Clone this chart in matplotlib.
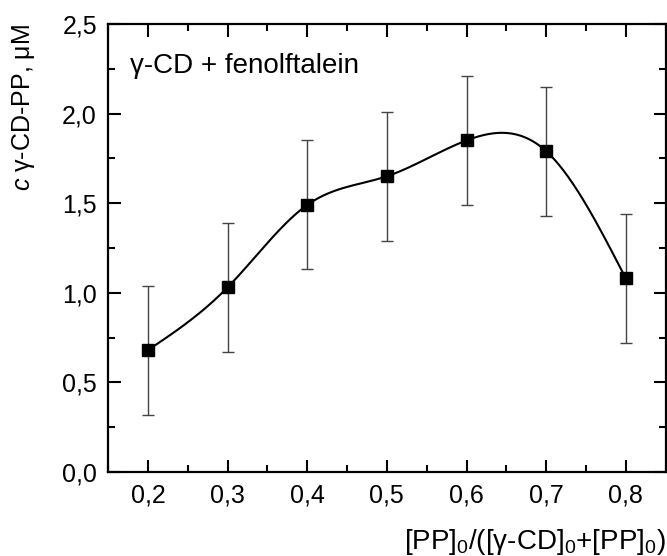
import numpy as np
import matplotlib
matplotlib.use("Agg")
import matplotlib.pyplot as plt
from matplotlib.ticker import MultipleLocator, FuncFormatter

plt.rcParams['font.family'] = ['Liberation Sans', 'DejaVu Sans']
plt.rcParams['mathtext.fontset'] = 'custom'
plt.rcParams['mathtext.rm'] = 'Liberation Sans'
plt.rcParams['mathtext.it'] = 'Liberation Sans:italic'

x = np.array([0.2, 0.3, 0.4, 0.5, 0.6, 0.7, 0.8])
c = np.array([0.68, 1.03, 1.49, 1.65, 1.85, 1.79, 1.08])
err = np.array([0.36, 0.36, 0.36, 0.36, 0.36, 0.36, 0.36])


def natural_spline(xs, ys, n=300):
    # natural cubic spline through the measured points
    k = len(xs)
    h = np.diff(xs)
    A = np.zeros((k, k))
    b = np.zeros(k)
    A[0, 0] = A[-1, -1] = 1
    for i in range(1, k - 1):
        A[i, i - 1] = h[i - 1]
        A[i, i] = 2 * (h[i - 1] + h[i])
        A[i, i + 1] = h[i]
        b[i] = 6 * ((ys[i + 1] - ys[i]) / h[i] - (ys[i] - ys[i - 1]) / h[i - 1])
    m = np.linalg.solve(A, b)
    xx = np.linspace(xs[0], xs[-1], n)
    idx = np.clip(np.searchsorted(xs, xx) - 1, 0, k - 2)
    x0, x1 = xs[idx], xs[idx + 1]
    hh = x1 - x0
    t0, t1 = x1 - xx, xx - x0
    yy = (m[idx] * t0**3 + m[idx + 1] * t1**3) / (6 * hh) \
        + (ys[idx] / hh - m[idx] * hh / 6) * t0 \
        + (ys[idx + 1] / hh - m[idx + 1] * hh / 6) * t1
    return xx, yy


fig = plt.figure(figsize=(6.67, 5.56), dpi=100)
ax = fig.add_axes([0.162, 0.151, 0.836, 0.806])

xs, ys = natural_spline(x, c)
ax.plot(xs, ys, color='black', linewidth=1.5)
ax.errorbar(x, c, yerr=err, fmt='none', ecolor='#444444', elinewidth=1,
            capsize=4, capthick=1)
ax.plot(x, c, 's', color='black', markersize=8.5)

ax.set_xlim(0.15, 0.85)
ax.set_ylim(0, 2.5)
ax.xaxis.set_major_locator(MultipleLocator(0.1))
ax.xaxis.set_minor_locator(MultipleLocator(0.05))
ax.yaxis.set_major_locator(MultipleLocator(0.5))
ax.yaxis.set_minor_locator(MultipleLocator(0.25))
ax.xaxis.set_major_formatter(FuncFormatter(lambda v, p: f"{v:.1f}".replace('.', ',')))
ax.yaxis.set_major_formatter(FuncFormatter(lambda v, p: f"{v:.1f}".replace('.', ',')))

ax.tick_params(which='both', direction='in', top=True, right=True, width=1.5,
               labelsize=18)
ax.tick_params(which='major', length=9, pad=8)
ax.tick_params(which='minor', length=5)
for s in ax.spines.values():
    s.set_linewidth(1.6)

ax.set_ylabel(r'$\mathit{c}$ γ-CD-PP, μM', fontsize=18, loc='top', labelpad=18)
ax.set_xlabel(r'[PP]$_0$/([γ-CD]$_0$+[PP]$_0$)', fontsize=20, loc='right',
              labelpad=14)
ax.text(0.04, 0.905, 'γ-CD + fenolftalein', transform=ax.transAxes, fontsize=20,
        va='center', ha='left')

fig.savefig('out.png', dpi=100)
